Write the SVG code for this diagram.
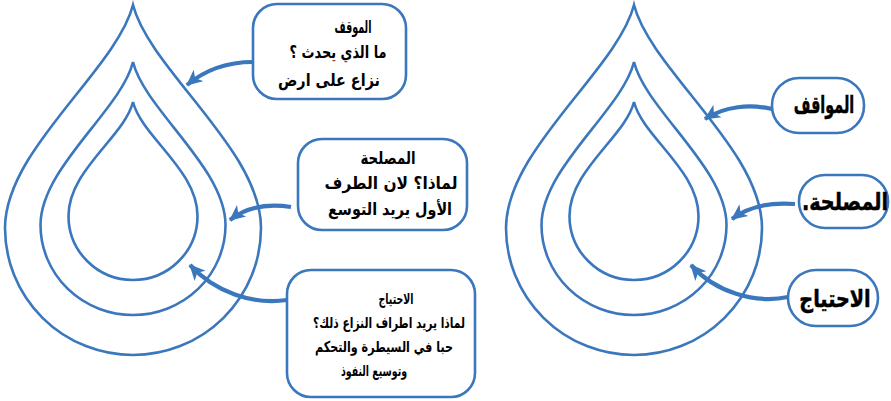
<svg xmlns="http://www.w3.org/2000/svg" width="891" height="401" viewBox="0 0 891 401">
<style>
.drop{fill:none;stroke:#3b77bd;stroke-width:2.6}
.box{fill:#fff;stroke:#3b77bd;stroke-width:2.6}
.con{fill:none;stroke:#3b77bd;stroke-width:4.2}
.t{font-family:"DejaVu Sans",sans-serif;font-weight:bold;fill:#000;text-anchor:middle}
.s1{font-size:17px}
.s2{font-size:15px}
.s3{font-size:24px;stroke:#000;stroke-width:0.5}
</style>
<defs>
<marker id="ah" markerUnits="userSpaceOnUse" markerWidth="17" markerHeight="17" viewBox="0 0 16 16" refX="14" refY="8" orient="auto">
<path d="M0,1 L15,8 L0,15 L4,8 Z" fill="#3b77bd"/>
</marker>
<g id="drops">
<path class="drop" d="M133,5 C150,70 261,150 261,228 A128,127 0 0 1 5,228 C5,150 116,70 133,5 Z"/>
<path class="drop" d="M133,62 C145,110 225.5,168 225.5,225 A92.5,90 0 0 1 40.5,225 C40.5,168 121,110 133,62 Z"/>
<path class="drop" d="M133,102 C142,137 197.5,170 197.5,216 A64.5,64 0 0 1 68.5,216 C68.5,170 124,137 133,102 Z"/>
</g>
</defs>
<g id="drop-left"><use href="#drops"/></g>
<g id="drop-right"><use href="#drops" transform="translate(501,0)"/></g>
<g id="connectors">
<path class="con" d="M253,62 C225,62 205,70 187,85" marker-end="url(#ah)"/>
<path class="con" d="M291,207 C265,203 245,208 230,220" marker-end="url(#ah)"/>
<path class="con" d="M287,300 C252,305 215,292 190,265" marker-end="url(#ah)"/>
<path class="con" d="M772,109 C750,104 725,106 705,119" marker-end="url(#ah)"/>
<path class="con" d="M795,204 C770,202 748,207 732,219" marker-end="url(#ah)"/>
<path class="con" d="M788,297 C755,304 715,292 691,265" marker-end="url(#ah)"/>
</g>
<g id="box-mawqif-detail">
<rect class="box" x="253" y="4" width="153" height="95" rx="24"/>
<text class="t s1" x="353" y="33" textLength="37" lengthAdjust="spacingAndGlyphs">الموقف</text>
<text class="t s1" x="338" y="58" textLength="97" lengthAdjust="spacingAndGlyphs">ما الذي يحدث ؟</text>
<text class="t s1" x="329" y="86" textLength="102" lengthAdjust="spacingAndGlyphs">نزاع على ارض</text>
</g>
<g id="box-maslaha-detail">
<rect class="box" x="298" y="139" width="169" height="91" rx="24"/>
<text class="t s1" x="388" y="164" textLength="55" lengthAdjust="spacingAndGlyphs">المصلحة</text>
<text class="t s1" x="391" y="189" textLength="133" lengthAdjust="spacingAndGlyphs">لماذا؟ لان الطرف</text>
<text class="t s1" x="390" y="215" textLength="124" lengthAdjust="spacingAndGlyphs">الأول يريد التوسع</text>
</g>
<g id="box-ihtiyaj-detail">
<rect class="box" x="287" y="270" width="188" height="127" rx="24"/>
<text class="t s2" x="396" y="304" textLength="35" lengthAdjust="spacingAndGlyphs">الاحتياج</text>
<text class="t s2" x="389" y="328" textLength="152" lengthAdjust="spacingAndGlyphs">لماذا يريد اطراف النزاع ذلك؟</text>
<text class="t s2" x="384" y="352" textLength="138" lengthAdjust="spacingAndGlyphs">حبا في السيطرة والتحكم</text>
<text class="t s2" x="374" y="376" textLength="66" lengthAdjust="spacingAndGlyphs">وتوسيع النفوذ</text>
</g>
<g id="box-mawaqif">
<rect class="box" x="772" y="78" width="92" height="55" rx="27"/>
<text class="t s3" transform="translate(824,113) scale(0.6,1)">المواقف</text>
</g>
<g id="box-maslaha">
<rect class="box" x="799" y="175" width="89" height="53" rx="26"/>
<text class="t s3" transform="translate(845,210) scale(0.8,1)">.المصلحة</text>
</g>
<g id="box-ihtiyaj">
<rect class="box" x="788" y="270" width="90" height="56" rx="28"/>
<text class="t s3" transform="translate(835,307) scale(0.8,1)">الاحتياج</text>
</g>
</svg>
